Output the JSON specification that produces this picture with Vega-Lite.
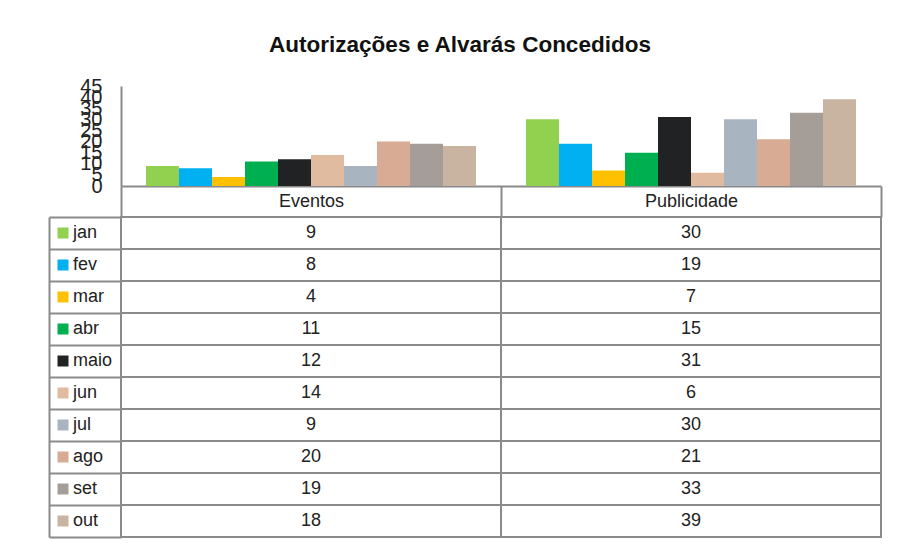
{
  "$schema": "https://vega.github.io/schema/vega-lite/v6.json",
  "background": "white",
  "padding": {"left": 48, "top": 33, "right": 10, "bottom": 5},
  "title": {
    "text": "Autorizações e Alvarás Concedidos",
    "font": "Liberation Sans",
    "fontSize": 22.5,
    "fontWeight": "bold",
    "color": "#111111",
    "anchor": "middle",
    "frame": "bounds",
    "dx": -5,
    "offset": 20
  },
  "config": {
    "view": {"stroke": null},
    "font": "Liberation Sans"
  },
  "datasets": {
    "d": [
      {"category": "Eventos", "month": "jan", "value": 9},
      {"category": "Eventos", "month": "fev", "value": 8},
      {"category": "Eventos", "month": "mar", "value": 4},
      {"category": "Eventos", "month": "abr", "value": 11},
      {"category": "Eventos", "month": "maio", "value": 12},
      {"category": "Eventos", "month": "jun", "value": 14},
      {"category": "Eventos", "month": "jul", "value": 9},
      {"category": "Eventos", "month": "ago", "value": 20},
      {"category": "Eventos", "month": "set", "value": 19},
      {"category": "Eventos", "month": "out", "value": 18},
      {"category": "Publicidade", "month": "jan", "value": 30},
      {"category": "Publicidade", "month": "fev", "value": 19},
      {"category": "Publicidade", "month": "mar", "value": 7},
      {"category": "Publicidade", "month": "abr", "value": 15},
      {"category": "Publicidade", "month": "maio", "value": 31},
      {"category": "Publicidade", "month": "jun", "value": 6},
      {"category": "Publicidade", "month": "jul", "value": 30},
      {"category": "Publicidade", "month": "ago", "value": 21},
      {"category": "Publicidade", "month": "set", "value": 33},
      {"category": "Publicidade", "month": "out", "value": 39}
    ]
  },
  "bounds": "flush",
  "spacing": 31,
  "resolve": {"scale": {"color": "independent", "x": "independent", "y": "independent"}},
  "vconcat": [
    {
      "width": 760,
      "height": 100,
      "data": {"name": "d"},
      "mark": {"type": "bar"},
      "encoding": {
        "x": {
          "field": "category",
          "type": "nominal",
          "scale": {"paddingInner": 0, "paddingOuter": 0},
          "axis": {
            "title": null,
            "labelAngle": 0,
            "labelFontSize": 18,
            "labelColor": "#222222",
            "labelPadding": -25,
            "domainColor": "#8a8a8a",
            "domainWidth": 2,
            "tickColor": "#8a8a8a",
            "tickWidth": 2,
            "tickSize": 31,
            "tickBand": "extent"
          }
        },
        "xOffset": {
          "field": "month",
          "type": "nominal",
          "scale": {
            "domain": ["jan", "fev", "mar", "abr", "maio", "jun", "jul", "ago", "set", "out"],
            "paddingInner": 0,
            "paddingOuter": 0.7576
          }
        },
        "y": {
          "field": "value",
          "type": "quantitative",
          "scale": {"domain": [0, 45], "nice": false},
          "axis": {
            "title": null,
            "values": [0, 5, 10, 15, 20, 25, 30, 35, 40, 45],
            "labelFontSize": 20,
            "labelColor": "#222222",
            "labelOverlap": false,
            "labelFlush": false,
            "labelBound": false,
            "labelPadding": 19,
            "ticks": false,
            "grid": false,
            "domainColor": "#8a8a8a",
            "domainWidth": 2
          }
        },
        "color": {
          "field": "month",
          "type": "nominal",
          "scale": {
            "domain": ["jan", "fev", "mar", "abr", "maio", "jun", "jul", "ago", "set", "out"],
            "range": ["#92d050", "#00b0f0", "#ffc000", "#00b050", "#212224", "#e0bb9f", "#a8b4c0", "#d8ac94", "#a59e98", "#c8b4a0"]
          },
          "legend": {
            "orient": "none",
            "legendX": -67,
            "legendY": 131,
            "title": null,
            "symbolType": "square",
            "symbolSize": 121,
            "symbolStrokeWidth": 0,
            "labelFontSize": 18,
            "labelColor": "#222222",
            "labelOffset": 1,
            "clipHeight": 32,
            "rowPadding": 0,
            "padding": 0
          }
        }
      }
    },
    {
      "width": 760,
      "height": 320,
      "data": {"name": "d"},
      "encoding": {
        "x": {
          "field": "category",
          "type": "nominal",
          "scale": {"paddingInner": 0, "paddingOuter": 0},
          "axis": null
        },
        "y": {
          "field": "month",
          "type": "nominal",
          "scale": {
            "domain": ["jan", "fev", "mar", "abr", "maio", "jun", "jul", "ago", "set", "out"],
            "paddingInner": 0,
            "paddingOuter": 0
          },
          "axis": {
            "orient": "left",
            "offset": 72,
            "title": null,
            "labels": false,
            "domain": true,
            "domainColor": "#8a8a8a",
            "domainWidth": 2,
            "ticks": true,
            "tickBand": "extent",
            "tickSize": -72,
            "tickColor": "#8a8a8a",
            "tickWidth": 2,
            "grid": false
          }
        }
      },
      "layer": [
        {
          "mark": {"type": "rect", "fill": "white", "stroke": "#8a8a8a", "strokeWidth": 2}
        },
        {
          "mark": {"type": "text", "fontSize": 18, "color": "#222222", "baseline": "middle"},
          "encoding": {"text": {"field": "value", "type": "quantitative"}}
        }
      ]
    }
  ]
}
